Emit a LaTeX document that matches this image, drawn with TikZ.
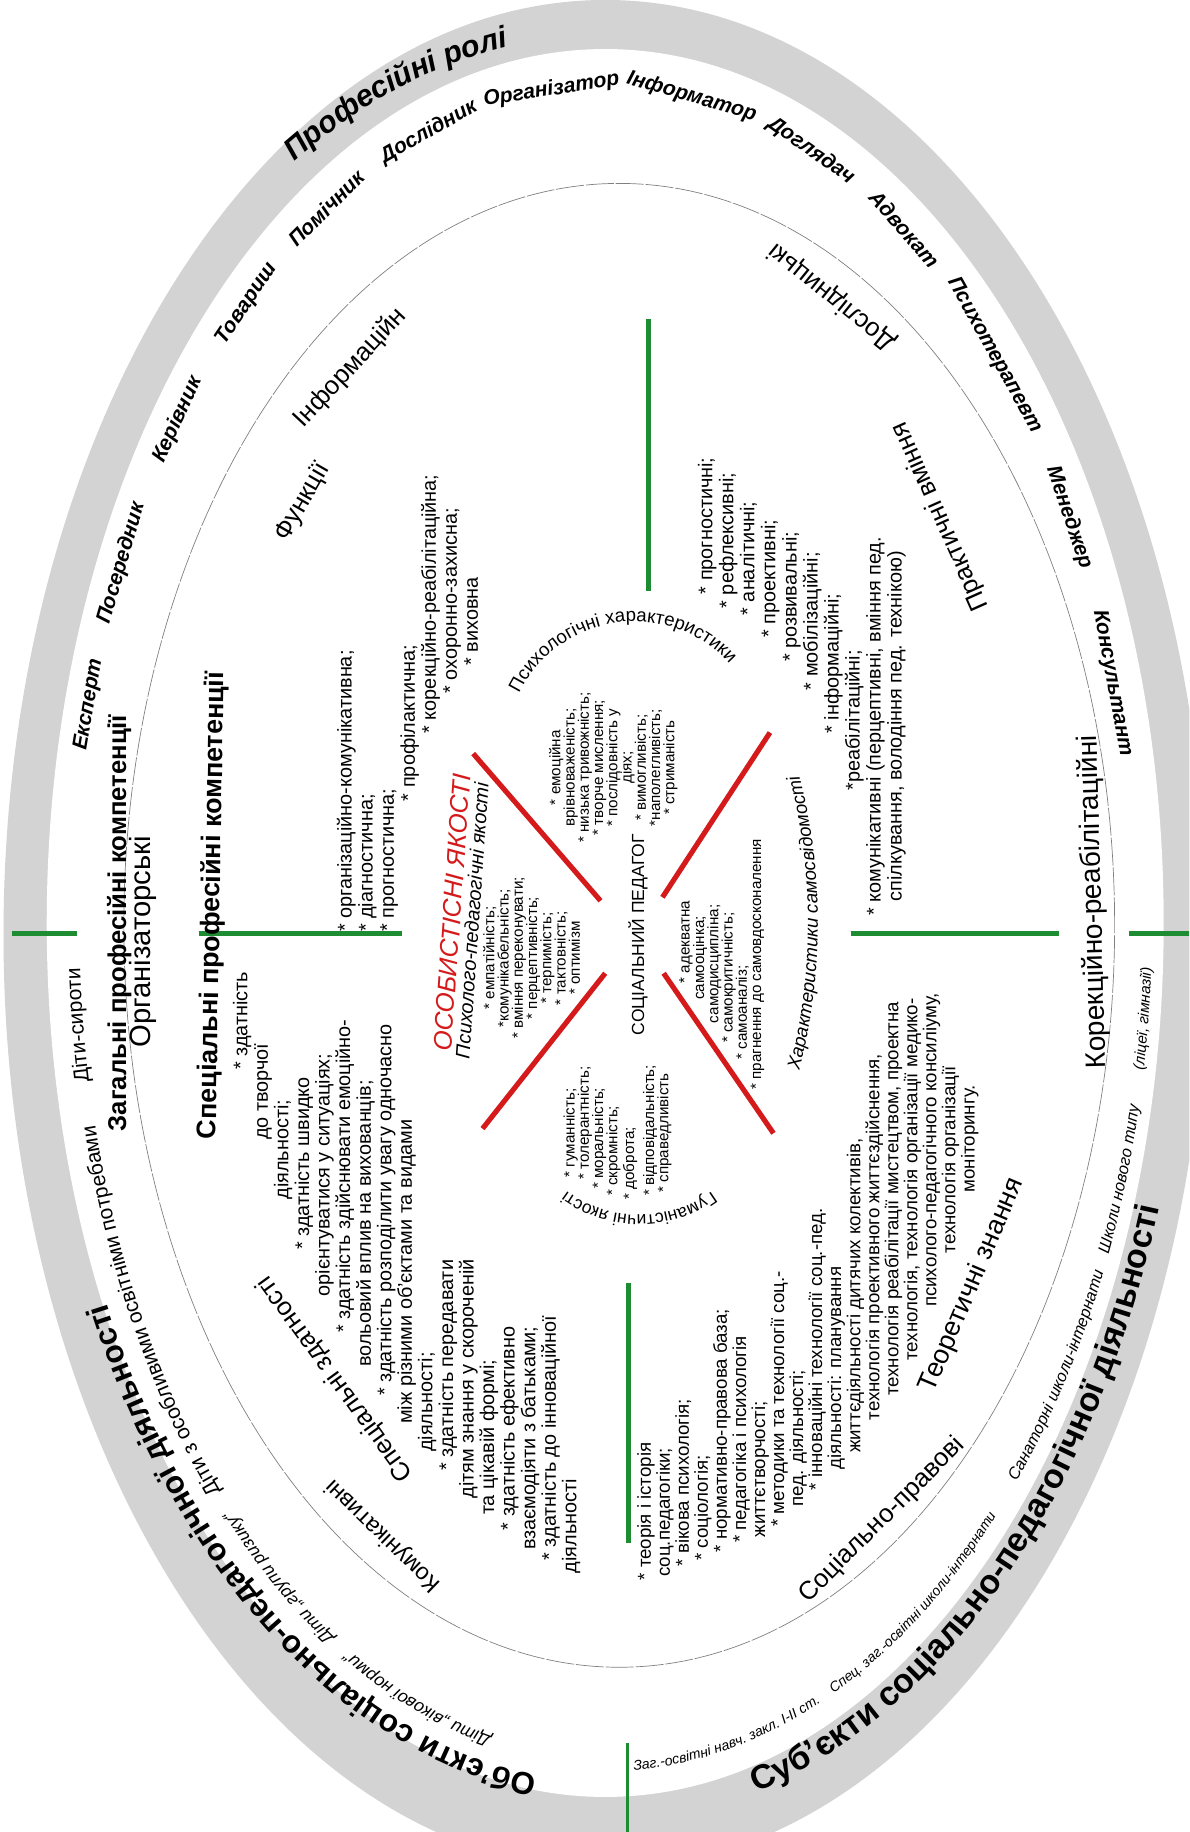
\documentclass[tikz,border=0pt]{standalone}
\usepackage{fontspec}
\setmainfont{Liberation Sans}
\usetikzlibrary{decorations.text}

\definecolor{ringgray}{RGB}{211,211,211}
\definecolor{divgreen}{RGB}{30,140,50}
\definecolor{crossred}{RGB}{212,26,26}
\newcommand{\fsz}[2]{\fontsize{#1}{#2}\selectfont}

\begin{document}
\begin{tikzpicture}[x=0.5pt, y=0.5pt,
        role/.style={font=\fsz{9}{10}\bfseries\itshape, inner sep=0pt},
        field/.style={font=\fsz{11}{12}, inner sep=0pt},
        head/.style={font=\fsz{11}{12}\bfseries, inner sep=0pt},
        items/.style={font=\fsz{8.5}{8.8}, align=left, inner sep=0pt, rotate=90, anchor=north west},
        xlist/.style={font=\fsz{6.5}{6.1}, inner sep=0pt, rotate=90},
        divider/.style={divgreen, line width=2.2pt},
        crossline/.style={crossred, line width=2.2pt},
        arctext/.style={decorate, decoration={text along path, text align=left, text={#1}}},
        arctextc/.style={decorate, decoration={text along path, text align=center, text={#1}}}]

        % 1. Frame, grey ring and thin inner ellipse
        \useasboundingbox (0,0) rectangle (1018,1568);
        \clip (0,0) rectangle (1018,1568);
        \fill[white] (0,0) rectangle (1018,1568);
        \fill[ringgray] (518,768) ellipse [x radius=515, y radius=800];
        \fill[white] (518,778) ellipse [x radius=478, y radius=748];
        \draw[black!50, line width=0.3pt, dash pattern=on 12pt off 0.8pt] (530,776) ellipse [x radius=424, y radius=635];

        % 2. Green dividers
        \draw[divider] (10,769) -- (66,769);
        \draw[divider] (170,769) -- (344,769);
        \draw[divider] (728,769) -- (906,769);
        \draw[divider] (966,769) -- (1018,769);
        \draw[divider] (555,1295) -- (555,1062);
        \draw[divider] (538,470) -- (538,247);
        \draw[divider, line width=1pt] (537,76) -- (537,0);

        % 3. Red cross
        \draw[crossline] (405,923) -- (514,797);
        \draw[crossline] (659,941) -- (567,800);
        \draw[crossline] (518,735) -- (413,602);
        \draw[crossline] (568,735) -- (662,598);

        % 4. Titles along the ring
        \path[arctext={|\fsz{13}{15}\bfseries\itshape|Професійні ролі}]
            ({518+517*cos(121)},{778+760*sin(121)}) arc[start angle=121, end angle=60, x radius=517, y radius=760];
        \path[arctext={|\fsz{13.5}{15}\bfseries|Об’єкти соціально-педагогічної діяльності}]
            ({518+476*cos(263)},{778+735*sin(263)}) arc[start angle=263, end angle=150, x radius=476, y radius=735];
        \path[arctext={|\fsz{14.5}{16}\bfseries|Суб’єкти соціально-педагогічної діяльності}]
            ({518+500*cos(-75)},{778+770*sin(-75)}) arc[start angle=-75, end angle=20, x radius=500, y radius=770];

        % 5. Objects and subjects inside the ring
        \path[arctext={|\fsz{7.5}{8}\itshape|Діти „вікової норми“}]
            ({518+450*cos(257.5)},{778+713*sin(257.5)}) arc[start angle=257.5, end angle=200, x radius=450, y radius=713];
        \path[arctext={|\fsz{7.5}{8}\itshape|Діти „групи ризику“}]
            ({518+450*cos(239)},{778+713*sin(239)}) arc[start angle=239, end angle=190, x radius=450, y radius=713];
        \path[arctext={|\fsz{9}{10}|Діти з особливими освітніми потребами}]
            ({518+450*cos(223)},{778+713*sin(223)}) arc[start angle=223, end angle=170, x radius=450, y radius=713];
        \path[arctext={|\fsz{9}{10}|Діти-сироти}]
            ({518+450*cos(191)},{778+713*sin(191)}) arc[start angle=191, end angle=160, x radius=450, y radius=713];
        \path[arctext={|\fsz{6}{7}\itshape|Заг.-освітні навч. закл. І-ІІ ст.}]
            ({518+468*cos(-87)},{778+726*sin(-87)}) arc[start angle=-87, end angle=-40, x radius=468, y radius=726];
        \path[arctext={|\fsz{6}{7}\itshape|Спец. заг.-освітні школи-інтернати}]
            ({518+468*cos(-65.3)},{778+726*sin(-65.3)}) arc[start angle=-65.3, end angle=-20, x radius=468, y radius=726];
        \path[arctext={|\fsz{7}{8}\itshape|Санаторні школи-інтернати}]
            ({518+468*cos(-41.2)},{778+726*sin(-41.2)}) arc[start angle=-41.2, end angle=0, x radius=468, y radius=726];
        \path[arctext={|\fsz{7}{8}\itshape|Школи нового типу}]
            ({518+468*cos(-23)},{778+726*sin(-23)}) arc[start angle=-23, end angle=10, x radius=468, y radius=726];
        \path[arctext={|\fsz{6.5}{7}\itshape|(ліцеї, гімназії)}]
            ({518+468*cos(-10)},{778+726*sin(-10)}) arc[start angle=-10, end angle=20, x radius=468, y radius=726];

        % 6. Professional roles
        \node[role, rotate=80.4] (expert) at (76,965) {Експерт};
        \node[role, rotate=73.8] (mediator) at (104,1086) {Посередник};
        \node[role, rotate=65.4] (leader) at (152,1209) {Керівник};
        \node[role, rotate=56.2] (comrade) at (211,1308) {Товариш};
        \node[role, rotate=45.2] (helper) at (279,1390) {Помічник};
        \node[role, rotate=29.7] (researcher) at (367,1455) {Дослідник};
        \node[role, rotate=8.9] (organiser) at (472,1491) {Організатор};
        \node[role, rotate=-16] (informer) at (592,1485) {Інформатор};
        \node[role, rotate=-35.3] (carer) at (694,1439) {Доглядач};
        \node[role, rotate=-48.8] (advocate) at (774,1372) {Адвокат};
        \node[role, rotate=-60.9] (therapist) at (851,1264) {Психотерапевт};
        \node[role, rotate=-71.4] (manager) at (915,1125) {Менеджер};
        \node[role, rotate=-79.5] (consultant) at (952,983) {Консультант};

        % 7. Competences and fields
        \node[head, rotate=90] (general) at (102,778) {Загальні професійні компетенції};
        \node[field, font=\fsz{12.5}{14}, rotate=90] (organising) at (122,762) {Організаторські};
        \node[head, font=\fsz{11.5}{13}\bfseries, rotate=89] (special) at (182,793) {Спеціальні професійні компетенції};
        \node[field, rotate=60] (functions) at (259,1138) {Функції};
        \node[field, rotate=47] (informational) at (300,1253) {Інформаційн};
        \node[field, rotate=141] (research) at (712,1314) {Дослідницькі};
        \node[field, rotate=114] (practice) at (805,1126) {Практичні вміння};
        \node[field, font=\fsz{12}{13}, rotate=91.5] (correction) at (936,796) {Корекційно-реабілітаційні};
        \node[field, font=\fsz{11.5}{13}, rotate=67] (theory) at (832,468) {Теоретичні знання};
        \node[field, rotate=45] (legal) at (755,267) {Соціально-правові};
        \node[field, font=\fsz{10}{11}, rotate=136] (communicative) at (328,254) {Комунікативні};
        \node[field, rotate=126] (abilities) at (287,388) {Спеціальні здатності};

        % 8. Lists
        \node[items, font=\fsz{8.5}{9}] (funclist) at (288,770) {%
            * організаційно-комунікативна;\\
            * діагностична;\\
            * прогностична;\\
            \hspace*{56pt}* профілактична;\\
            \hspace*{85pt}* корекційно-реабілітаційна;\\
            \hspace*{102pt}* охоронно-захисна;\\
            \hspace*{114pt}* виховна};
        \node[items] (abilitylist) at (199,221) {%
            \hspace*{215.5pt}* здатність\\
            \hspace*{185.5pt}до творчої\\
            \hspace*{160pt}діяльності;\\
            \hspace*{138.5pt}* здатність швидко\\
            \hspace*{118.5pt}орієнтуватися у ситуаціях;\\
            \hspace*{103pt}* здатність здійснювати емоційно-\\
            \hspace*{88.5pt}вольовий вплив на вихованців;\\
            \hspace*{76pt}* здатність розподілити увагу одночасно\\
            \hspace*{64pt}між різними об’єктами та видами\\
            \hspace*{52pt}діяльності;\\
            \hspace*{44pt}* здатність передавати\\
            \hspace*{32pt}дітям знання у скороченій\\
            \hspace*{25pt}та цікавій формі;\\
            \hspace*{18.5pt}* здатність ефективно\\
            \hspace*{10pt}взаємодіяти з батьками;\\
            \hspace*{5.5pt}* здатність до інноваційної\\
            діяльності};
        \node[items, font=\fsz{8.5}{9}] (skilllist) at (597,784) {%
            \hspace*{137.5pt}* прогностичні;\\
            \hspace*{131.5pt}* рефлексивні;\\
            \hspace*{128.5pt}* аналітичні;\\
            \hspace*{119pt}* проективні;\\
            \hspace*{108.5pt}* розвивальні;\\
            \hspace*{96.5pt}* мобілізаційні;\\
            \hspace*{78pt}* інформаційні;\\
            \hspace*{53.5pt}*реабілітаційні;\\
            * комунікативні (перцептивні, вміння пед.\\
            \hspace*{6pt}спілкування, володіння пед. технікою)};
        \node[items, font=\fsz{8}{8.15}] (theorylist) at (545,215) {%
            * теорія і історія\\
            \hspace*{1.5pt}соц.педагогіки;\\
            \hspace*{6pt}* вікова психологія;\\
            \hspace*{8.5pt}* соціологія;\\
            \hspace*{12pt}* нормативно-правова база;\\
            \hspace*{16pt}* педагогіка і психологія\\
            \hspace*{18.5pt}життєтворчості;\\
            \hspace*{23pt}* методики та технології соц.-\\
            \hspace*{31.5pt}пед. діяльності;\\
            \hspace*{38.5pt}* інноваційні технології соц.-пед.\\
            \hspace*{47.5pt}діяльності: планування\\
            \hspace*{54.5pt}життєдіяльності дитячих колективів,\\
            \hspace*{68.5pt}технологія проективного життєздійснення,\\
            \hspace*{79pt}технологія реабілітації мистецтвом, проектна\\
            \hspace*{94pt}технологія, технологія організації медико-\\
            \hspace*{117pt}психолого-педагогічного консиліуму,\\
            \hspace*{140pt}технологія організації\\
            \hspace*{166pt}моніторингу.};

        % 9. Social pedagogue and the four groups of qualities
        \node[inner sep=0pt, font=\fsz{7.5}{9}, rotate=90] (pedagogue) at (546,768) {СОЦІАЛЬНИЙ ПЕДАГОГ};
        \node[inner sep=0pt, font=\fsz{11}{12}\itshape, text=crossred, rotate=86] (personal) at (387,787) {ОСОБИСТІСНІ ЯКОСТІ};
        \node[inner sep=0pt, font=\fsz{8.5}{9}\itshape, rotate=86] (psyped) at (404,780) {Психолого-педагогічні якості};
        \node[xlist, align=center] (pplist) at (455,748) {%
            * емпатійність;\\
            *комунікабельність;\\
            * вміння переконувати;\\
            * перцептивність;\\
            * терпимість;\\
            * тактовність;\\
            * оптимізм};
        \node[xlist, align=center] (psylist) at (525,911) {%
            * емоційна\\
            врівноваженість;\\
            * низька тривожність;\\
            * творче мислення;\\
            * послідовність у\\
            діях;\\
            * вимогливість;\\
            *наполегливість;\\
            * стриманість};
        \node[xlist, align=left, anchor=north west] (selflist) at (581,635) {%
            \hspace*{45.5pt}* адекватна\\
            \hspace*{38.5pt}самооцінка;\\
            \hspace*{28.5pt}самодисципліна;\\
            \hspace*{20pt}* самокритичність;\\
            \hspace*{13pt}* самоаналіз;\\
            * прагнення до самовдосконалення};
        \node[xlist, align=left, anchor=north west] (humlist) at (482,541) {%
            \hspace*{9.5pt}* гуманність;\\
            \hspace*{8.5pt}* толерантність;\\
            \hspace*{4.5pt}* моральність;\\
            \hspace*{1.5pt}* скромність;\\
            * доброта;\\[2.5pt]
            \hspace*{1.5pt}* відповідальність;\\
            \hspace*{3pt}* справедливість};
        \path[arctextc={|\fsz{8}{9}|Психологічні характеристики}]
            ({543+110*cos(160)},{926+110*sin(160)}) arc[start angle=160, end angle=36, radius=110];
        \path[arctextc={|\fsz{7.5}{9}|Гуманістичні якості}]
            ({547+105*cos(330)},{633+105*sin(330)}) arc[start angle=330, end angle=210, radius=105];
        \path[arctextc={|\fsz{8}{9}\itshape|Характеристики самосвідомості}]
            ({192+508*cos(-20)},{778+508*sin(-20)}) arc[start angle=-20, end angle=20, radius=508];

\end{tikzpicture}
\end{document}
